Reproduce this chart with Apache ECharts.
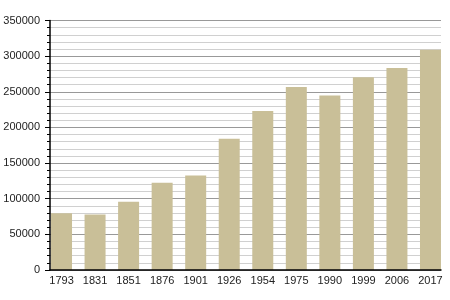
<!DOCTYPE html>
<html><head><meta charset="utf-8">
<script src="https://cdn.jsdelivr.net/npm/echarts@6/dist/echarts.min.js"></script>
<style>html,body{margin:0;padding:0;background:#fff}#c{width:450px;height:300px}</style>
</head><body><div id="c"></div>
<script>
const years = ['1793','1831','1851','1876','1901','1926','1954','1975','1990','1999','2006','2017'];
const population = [79500, 77800, 95800, 122300, 132500, 184000, 223000, 256700, 244800, 270400, 283300, 309000];
const yMin = 0, yMax = 350000, yInterval = 50000;

const chart = echarts.init(document.getElementById('c'), null, {renderer:'canvas'});
const font = 'Liberation Sans, Arial, sans-serif';
chart.setOption({
  animation:false,
  grid:[
    {left:50, right:9, top:20.5, bottom:30},
    {left:44.75, right:2.75, top:20.5, bottom:30}
  ],
  xAxis:[
    {gridIndex:0, type:'category', data:years, boundaryGap:true, position:'bottom', z:10,
     axisLine:{show:true, lineStyle:{color:'#000', width:1.5}},
     axisTick:{show:false}, axisLabel:{show:false}, splitLine:{show:false}},
    {gridIndex:1, type:'category', data:years, boundaryGap:true,
     axisLine:{show:false}, axisTick:{show:false},
     axisLabel:{show:true, color:'#222', fontSize:11, fontFamily:font, margin:5, interval:0}}
  ],
  yAxis:[
    {gridIndex:0, type:'value', min:yMin, max:yMax, interval:yInterval,
     axisLine:{show:true, lineStyle:{color:'#000', width:1.5}},
     axisTick:{show:true, length:5, lineStyle:{color:'#000'}},
     minorTick:{show:true, splitNumber:5, length:3, lineStyle:{color:'#000'}},
     splitLine:{show:true, lineStyle:{color:'#999', width:1}},
     minorSplitLine:{show:true, lineStyle:{color:'#d0d0d0', width:1}},
     axisLabel:{color:'#222', fontSize:11, fontFamily:font, margin:10,
       formatter:function(v){return String(v);}}},
    {gridIndex:1, type:'value', min:yMin, max:yMax, interval:yInterval, show:false,
     splitLine:{show:false}}
  ],
  series:[{
    type:'bar', xAxisIndex:1, yAxisIndex:1, data:population,
    barWidth:21, itemStyle:{color:'#C9BF98'}, z:3
  }]
});
</script></body></html>
